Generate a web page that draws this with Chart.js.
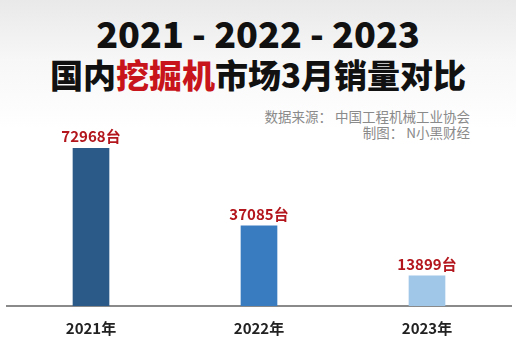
<!DOCTYPE html>
<html>
<head>
<meta charset="utf-8">
<script src="https://cdn.jsdelivr.net/npm/chart.js@4/dist/chart.umd.min.js"></script>
<style>
  html, body { margin: 0; padding: 0; }
  body {
    width: 516px; height: 352px; overflow: hidden; position: relative;
    background: linear-gradient(to bottom, #e9e9e9 0px, #f7f7f7 60px, #ffffff 130px);
    font-family: "Noto Sans CJK SC", "Noto Sans", sans-serif;
  }
  .title1, .title2 {
    position: absolute; left: 0; width: 516px; text-align: center;
    font-weight: 900; color: #111; white-space: nowrap;
  }
  .title1 { top: 9px; font-size: 36px; line-height: 46px; }
  .title2 { top: 51px; font-size: 33px; line-height: 46px; }
  .title2 .hl { color: #c8151b; }
  .src {
    position: absolute; right: 46px; text-align: right; color: #8a8a8a;
    font-size: 13.5px; line-height: 16px; white-space: nowrap;
  }
  #wrap { position: absolute; left: 0; top: 0; width: 516px; height: 352px; }
</style>
</head>
<body>
<div class="title1">2021 - 2022 - 2023</div>
<div class="title2">国内<span class="hl">挖掘机</span>市场3月销量对比</div>
<div class="src" style="top:108px">数据来源：&nbsp;中国工程机械工业协会</div>
<div class="src" style="top:124px">制图：&nbsp;N小黑财经</div>
<div id="wrap"><canvas id="salesChart" width="516" height="352"></canvas></div>
<script>
const years = ['2021年', '2022年', '2023年'];
const sales = [72968, 37085, 13899];
const barColors = ['#2b5a88', '#3a7cc0', '#a0c6e8'];
const unit = '台';

// 柱子上方的数值标签
const valueLabels = {
    id: 'valueLabels',
    afterDatasetsDraw(chart) {
        const ctx = chart.ctx;
        const meta = chart.getDatasetMeta(0);
        ctx.save();
        ctx.font = 'bold 15px "Noto Sans CJK SC", sans-serif';
        ctx.fillStyle = '#b3161c';
        ctx.textAlign = 'center';
        ctx.textBaseline = 'bottom';
        meta.data.forEach((bar, i) => {
            ctx.fillText(sales[i] + unit, bar.x, bar.y - 4);
        });
        ctx.restore();
    }
};

function InitSalesChart() {
    const ctx = document.getElementById('salesChart').getContext('2d');
    new Chart(ctx, {
        type: 'bar',
        data: {
            labels: years,
            datasets: [{
                data: sales,
                backgroundColor: barColors,
                barThickness: 36,
                borderWidth: 0
            }]
        },
        options: {
            responsive: false,
            animation: false,
            layout: { padding: { top: 133, left: 7, right: 5, bottom: 2 } },
            plugins: {
                legend: { display: false },
                tooltip: { enabled: false }
            },
            scales: {
                x: {
                    grid: { display: false, drawTicks: false },
                    border: { display: true, color: '#8a8a8a', width: 2 },
                    ticks: {
                        padding: 13,
                        color: '#222',
                        font: { size: 15, weight: 'bold', family: '"Noto Sans CJK SC", sans-serif' }
                    }
                },
                y: {
                    display: false,
                    min: 0,
                    max: 80000
                }
            }
        },
        plugins: [valueLabels]
    });
}

InitSalesChart();
</script>
</body>
</html>
